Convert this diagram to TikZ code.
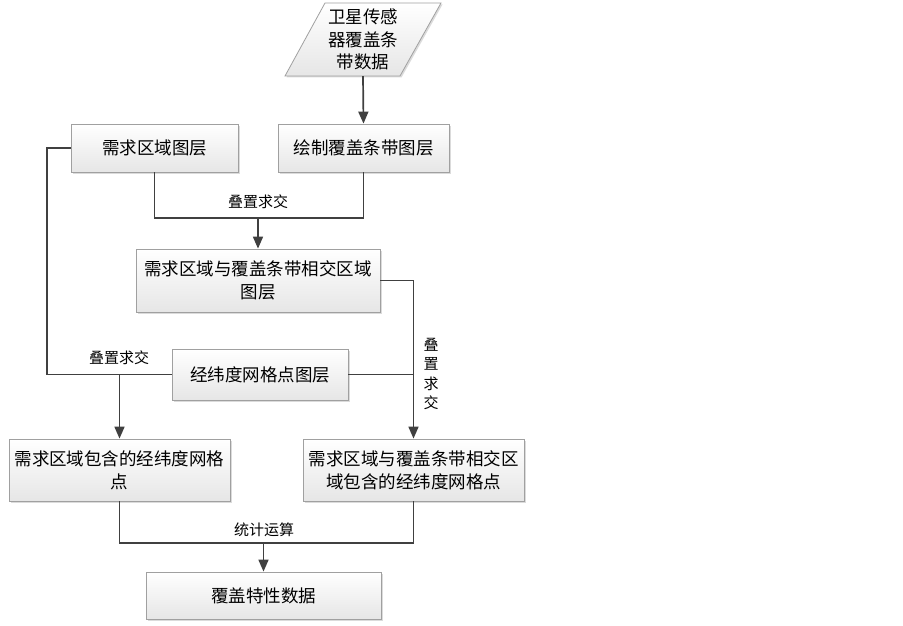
\documentclass[tikz,border=0pt]{standalone}
\usepackage{fontspec}
\setmainfont{Noto Sans CJK SC}
\usetikzlibrary{arrows.meta,shadows}
\definecolor{linec}{HTML}{404040}
\definecolor{boxedge}{HTML}{A0A0A0}
\definecolor{boxbot}{HTML}{E6E6E6}
\begin{document}
\begin{tikzpicture}[x=1pt,y=-1pt,
  box/.style={rectangle, draw=boxedge, line width=0.8pt, top color=white, bottom color=boxbot,
    drop shadow={shadow xshift=1.5pt, shadow yshift=-1.5pt, fill=gray!35, opacity=0.8},
    inner sep=0pt, align=center, font=\fontsize{17.5}{23}\selectfont},
  conn/.style={draw=linec, line width=1.7pt},
  arr/.style={conn, -{Triangle[length=12pt,width=10pt]}},
  lbl/.style={font=\fontsize{15}{20}\selectfont, inner sep=0pt, align=center}
]
\fill[white] (0,0) rectangle (903,626);
\useasboundingbox (0,0) rectangle (903,626);

% parallelogram data source
\fill[gray!35, opacity=0.8] (326.5,4.5) -- (442.5,4.5) -- (401.5,77.5) -- (286.5,77.5) -- cycle;
\shade[top color=white, bottom color=boxbot, draw=boxedge, line width=0.8pt]
  (325,3) -- (441,3) -- (400,76) -- (285,76) -- cycle;
\node (data) [rectangle, minimum width=116pt, minimum height=73pt, inner sep=0pt, align=center,
  font=\fontsize{17.5}{22.5}\selectfont] at (363,39.5) {卫星传感\\器覆盖条\\带数据};

\node (demand) [box, minimum width=167pt, minimum height=48pt] at (154.5,148) {需求区域图层};
\node (drawl) [box, minimum width=171pt, minimum height=48pt] at (363.5,148) {绘制覆盖条带图层};
\node (inter) [box, minimum width=244pt, minimum height=63pt] at (258,280.5) {需求区域与覆盖条带相交区域\\图层};
\node (grid) [box, minimum width=176pt, minimum height=51pt] at (260,374.5) {经纬度网格点图层};
\node (demgrid) [box, minimum width=221pt, minimum height=62pt] at (119.5,470) {需求区域包含的经纬度网格\\点};
\node (intergrid) [box, minimum width=221pt, minimum height=62pt] at (413.5,470) {需求区域与覆盖条带相交区\\域包含的经纬度网格点};
\node (result) [box, minimum width=235pt, minimum height=47pt] at (263.5,595.5) {覆盖特性数据};

\coordinate (j1) at (258,218);
\coordinate (lc) at (47,374.5);
\coordinate (j2) at (263.5,543);

% connectors
\draw[arr] (data.south) -- (drawl.north);
\draw[conn] (demand.south) |- (j1) -| (drawl.south);
\draw[arr] (j1) -- (inter.north);
\draw[arr] (inter.east) -| (intergrid.north);
\draw[conn] (grid.east) -- (grid.east -| intergrid.north);
\draw[conn] (demand.west) -| (lc) -- (grid.west);
\draw[arr] (demgrid.north |- grid.west) -- (demgrid.north);
\draw[conn] (demgrid.south) |- (j2) -| (intergrid.south);
\draw[arr] (j2) -- (result.north);

% labels
\node (l1) [lbl] at (258,202) {叠置求交};
\node (l2) [lbl] at (119,358) {叠置求交};
\node (l3) [lbl, font=\fontsize{15}{19.5}\selectfont] at (431,374) {叠\\置\\求\\交};
\node (l4) [lbl] at (264,530) {统计运算};
\end{tikzpicture}
\end{document}
